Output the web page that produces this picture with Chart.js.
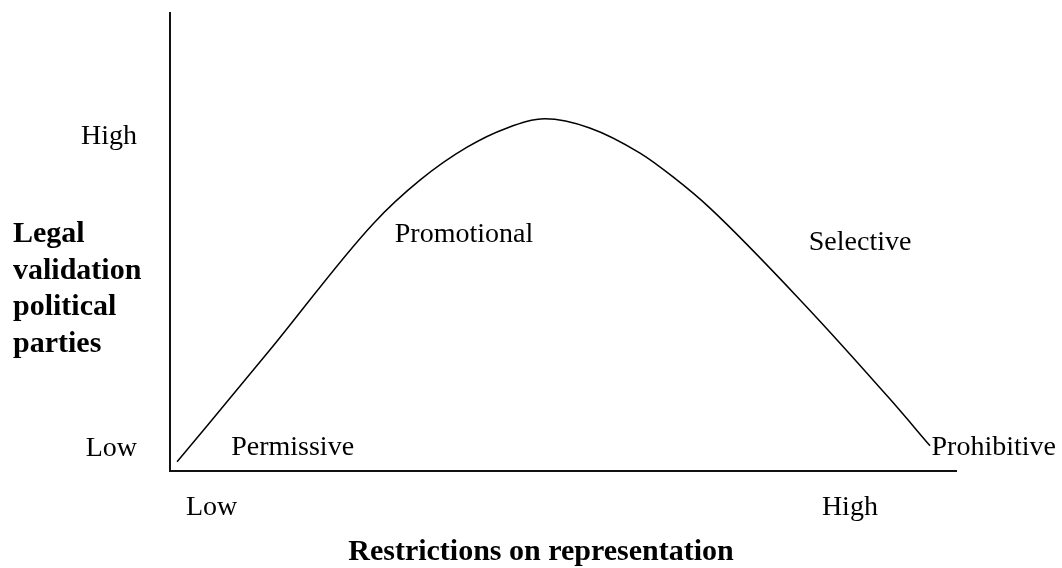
<!DOCTYPE html>
<html>
<head>
<meta charset="utf-8">
<script src="https://cdn.jsdelivr.net/npm/chart.js@4/dist/chart.umd.min.js"></script>
<style>
  html, body { margin: 0; padding: 0; background: #fff; }
  #wrap { width: 1062px; height: 568px; }
</style>
</head>
<body>
<div id="wrap"><canvas id="c" width="1062" height="568"></canvas></div>
<script>
// ---- data (arbitrary 0..100 units on both axes) ----
const curveX = [0.9, 12.7, 25.8, 31.8, 37.8, 42.9, 47.7, 53.4, 59.8, 64.0, 68.7, 80.2, 91.6, 96.7];
const curveY = [2.0, 26.4, 53.9, 63.5, 70.7, 74.9, 76.9, 74.9, 69.4, 64.2, 57.4, 37.3, 15.7, 5.5];

const xTickValues = [5.3, 86.5];
const xTickLabels = ['Low', 'High'];
const yTickValues = [4.8, 72.9];
const yTickLabels = ['Low', 'High'];

const regionLabels = ['Permissive', 'Promotional', 'Selective', 'Prohibitive'];
const regionX = [15.6, 37.4, 87.8, 104.8];
const regionY = [5.2, 51.5, 49.8, 5.2];

const xTitle = 'Restrictions on representation';
const yTitleLines = ['Legal', 'validation', 'political', 'parties'];

const SERIF = "'Liberation Serif', 'Times New Roman', serif";

const points = curveX.map((x, i) => ({ x: x, y: curveY[i] }));

const textPlugin = {
  id: 'textPlugin',
  afterDraw(chart) {
    const ctx = chart.ctx;
    const xs = chart.scales.x, ys = chart.scales.y;
    ctx.save();
    ctx.fillStyle = '#000';
    // region labels
    ctx.font = '28px ' + SERIF;
    ctx.textAlign = 'center';
    ctx.textBaseline = 'middle';
    regionLabels.forEach((t, i) => {
      ctx.fillText(t, xs.getPixelForValue(regionX[i]), ys.getPixelForValue(regionY[i]));
    });
    // y title (horizontal, multi-line)
    ctx.font = 'bold 30px ' + SERIF;
    ctx.textAlign = 'left';
    ctx.textBaseline = 'alphabetic';
    yTitleLines.forEach((t, i) => {
      ctx.fillText(t, 13, 242 + i * 36.7);
    });
    // x title
    ctx.textAlign = 'center';
    ctx.fillText(xTitle, 541, 560);
    ctx.restore();
  }
};

new Chart(document.getElementById('c'), {
  type: 'scatter',
  data: {
    datasets: [{
      data: points,
      showLine: true,
      borderColor: '#000',
      borderWidth: 1.5,
      pointRadius: 0,
      pointHoverRadius: 0,
      fill: false,
      cubicInterpolationMode: 'monotone'
    }]
  },
  options: {
    responsive: false,
    animation: false,
    events: [],
    layout: { padding: { top: 13, right: 106, left: 0, bottom: 0 } },
    plugins: { legend: { display: false }, tooltip: { enabled: false }, title: { display: false } },
    scales: {
      x: {
        type: 'linear',
        min: 0, max: 100,
        grid: { display: false, drawTicks: false },
        border: { display: true, color: '#111', width: 2 },
        afterBuildTicks: (s) => { s.ticks = xTickValues.map(v => ({ value: v })); },
        afterFit: (s) => { s.height = 97; s.paddingLeft = 0; s.paddingRight = 0; s.paddingTop = 0; s.paddingBottom = 0; },
        ticks: {
          padding: 20,
          color: '#000',
          font: { family: SERIF, size: 28 },
          maxRotation: 0,
          autoSkip: false,
          callback: (v) => { const i = xTickValues.indexOf(v); return i >= 0 ? xTickLabels[i] : ''; }
        }
      },
      y: {
        type: 'linear',
        min: 0, max: 100,
        grid: { display: false, drawTicks: false },
        border: { display: true, color: '#111', width: 2 },
        afterBuildTicks: (s) => { s.ticks = yTickValues.map(v => ({ value: v })); },
        afterFit: (s) => { s.width = 170; s.paddingLeft = 0; s.paddingRight = 0; s.paddingTop = 0; s.paddingBottom = 0; },
        ticks: {
          padding: 33,
          color: '#000',
          font: { family: SERIF, size: 28 },
          autoSkip: false,
          callback: (v) => { const i = yTickValues.indexOf(v); return i >= 0 ? yTickLabels[i] : ''; }
        }
      }
    }
  },
  plugins: [textPlugin]
});
</script>
</body>
</html>
